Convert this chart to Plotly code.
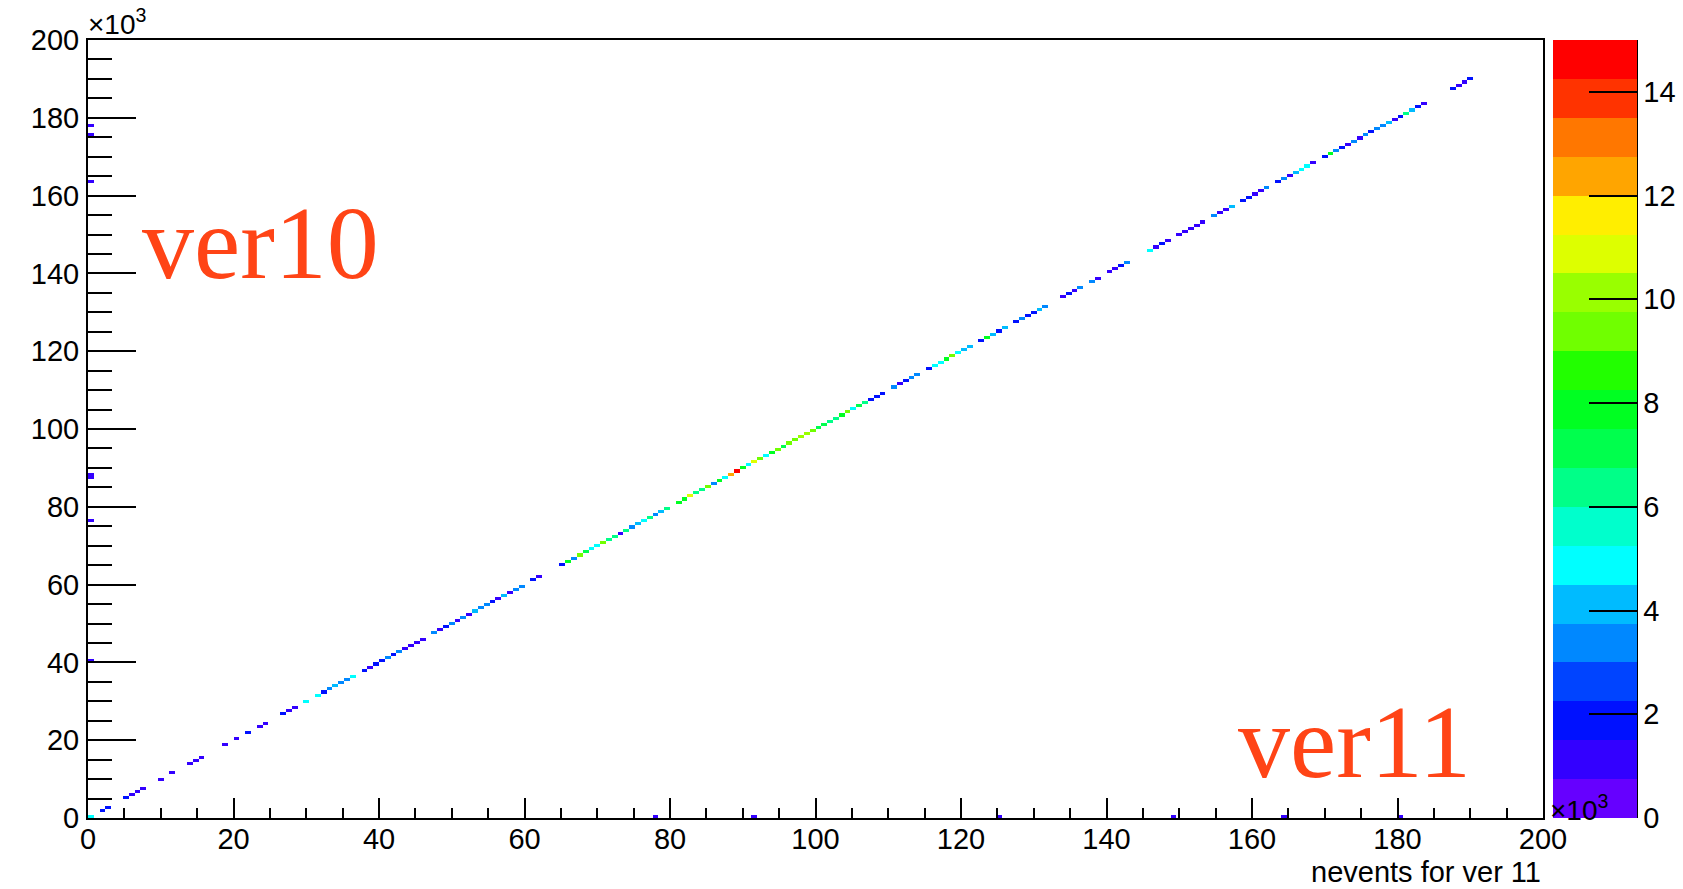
import numpy as np
import plotly.graph_objects as go

# ---------------- data (events per 0.8k bin) ----------------
BIN_W = 800          # bin width in events
N_BINS = 250         # 0 .. 200k

# diagonal cells: index = bin on both axes (ver11 bin == ver10 bin)
diag_counts = [
    4800, 0, 1800, 1800, 0, 0, 1800, 1100, 1100, 1100,          # 0-9
    0, 0, 1100, 0, 1100, 0, 0, 1100, 1100, 1100,                # 10-19
    0, 0, 0, 1100, 0, 1100, 0, 1800, 0, 1100,                   # 20-29
    1100, 0, 0, 1800, 1100, 1100, 0, 4800, 0, 4800,             # 30-39
    1800, 3300, 3900, 3300, 3300, 4800, 0, 1800, 1100, 1800,    # 40-49
    1800, 3300, 1800, 3300, 1100, 1100, 1100, 1100, 0, 3300,    # 50-59
    1100, 1800, 3300, 1100, 3300, 1100, 3900, 3300, 3300, 1800, # 60-69
    1100, 3900, 1100, 3300, 3300, 0, 1800, 1100, 0, 0,          # 70-79
    0, 1800, 7800, 3300, 9300, 7100, 4800, 4800, 9300, 6300,    # 80-89
    6300, 1100, 6300, 3300, 3900, 4800, 6300, 3300, 3900, 6300, # 90-99
    0, 7800, 7800, 10900, 6300, 6300, 9300, 3300, 7800, 4800,   # 100-109
    12300, 15000, 7800, 4800, 10900, 9300, 4800, 7800, 9300, 7100,  # 110-119
    9300, 9300, 10100, 10100, 9300, 7100, 7100, 6300, 6300, 7800,   # 120-129
    9300, 4800, 7100, 6300, 1800, 1800, 1800, 0, 3300, 1100,    # 130-139
    1800, 3300, 3300, 0, 1800, 4800, 4800, 7800, 9300, 4800,    # 140-149
    3900, 3900, 0, 1800, 7800, 3900, 1800, 3900, 0, 1800,       # 150-159
    3300, 1800, 1800, 3900, 3300, 0, 0, 1100, 1800, 1100,       # 160-169
    3300, 0, 3300, 1100, 0, 1100, 1100, 1800, 3300, 0,          # 170-179
    0, 0, 4800, 1100, 1800, 1100, 0, 1100, 1100, 1100,          # 180-189
    1100, 1100, 0, 3300, 1100, 1100, 3900, 0, 1800, 1800,       # 190-199
    1100, 1100, 3300, 0, 1800, 3300, 1100, 3900, 4800, 4800,    # 200-209
    1100, 0, 1800, 7800, 3300, 1800, 1100, 3300, 1100, 3300,    # 210-219
    1800, 3300, 3300, 3900, 1100, 1800, 6300, 3900, 1800, 1100, # 220-229
    0, 0, 0, 0, 1800, 1100, 1100, 1800,                         # 230-237
]

# isolated cells at ver11 = 0 (first column)
left_col_ver10 = [40400, 76400, 87600, 88400, 163600, 175600, 177800]
left_col_counts = [1100, 1100, 1100, 1100, 1100, 1100, 1100]

# isolated cells at ver10 = 0 (bottom row)
bottom_row_ver11 = [77800, 91400, 125200, 148900, 164200, 180300]
bottom_row_counts = [1100, 1100, 1100, 1100, 1100, 1100]

# ROOT rainbow palette, 20 contour levels
palette = [
    "#6600FF", "#3300FF", "#0011FF", "#0044FF", "#0088FF",
    "#00BBFF", "#00FFFF", "#00FFCC", "#00FF88", "#00FF4D",
    "#00FF22", "#22FF00", "#70FF00", "#99FF00", "#DDFF00",
    "#FFEE00", "#FFA500", "#FF7700", "#FF3300", "#FF0000",
]
Z_MAX = 15000
cbar_tickvals = [0, 2000, 4000, 6000, 8000, 10000, 12000, 14000]
cbar_ticktext = ["0", "2", "4", "6", "8", "10", "12", "14"]

# ---------------- build histogram ----------------
z = [[None] * N_BINS for _ in range(N_BINS)]
for i, c in enumerate(diag_counts):
    if c > 0:
        z[i][i] = c
for v, c in zip(left_col_ver10, left_col_counts):
    z[int(v // BIN_W)][0] = c
for v, c in zip(bottom_row_ver11, bottom_row_counts):
    z[0][int(v // BIN_W)] = c

centers = ((np.arange(N_BINS) + 0.5) * BIN_W / 1000.0).tolist()

n = len(palette)
colorscale = []
for k, col in enumerate(palette):
    colorscale.append([k / n, col])
    colorscale.append([(k + 1) / n, col])

# ---------------- layout geometry ----------------
W, H = 1683, 889
L, R, T, B = 88, 140, 40, 71
PW = W - L - R
PH = H - T - B

def px_x(x):
    return (x - L) / PW

def px_y(y):
    return (H - B - y) / PH

FONT = "Liberation Sans, Arial, Helvetica, sans-serif"
SERIF = "Liberation Serif, Times New Roman, serif"
TXT = 29

fig = go.Figure()
fig.add_trace(go.Heatmap(
    x=centers, y=centers, z=z,
    colorscale=colorscale, zmin=0, zmax=Z_MAX,
    hoverongaps=False,
    colorbar=dict(
        thickness=84, thicknessmode="pixels",
        len=1, lenmode="fraction", y=0.5, yanchor="middle",
        x=px_x(1553), xanchor="left", xpad=0, ypad=0,
        outlinewidth=0,
        ticks="inside", ticklen=48, tickwidth=2, tickcolor="black",
        tickvals=cbar_tickvals, ticktext=cbar_ticktext,
        tickfont=dict(family=FONT, size=TXT, color="black"),
        ticklabelposition="outside",
    ),
))

axis_common = dict(
    range=[0, 200], tick0=0, dtick=20,
    ticks="inside", tickwidth=2, tickcolor="black",
    showline=True, linewidth=2, linecolor="black", mirror=True,
    showgrid=False, zeroline=False,
    tickfont=dict(family=FONT, size=TXT, color="black"),
)

fig.update_layout(
    width=W, height=H,
    margin=dict(l=L, r=R, t=T, b=B, autoexpand=False),
    paper_bgcolor="white", plot_bgcolor="white",
    xaxis=dict(**axis_common, ticklen=20,
               minor=dict(ticks="inside", ticklen=10, tickwidth=2,
                          tickcolor="black", dtick=5, showgrid=False),
               ticklabelstandoff=-6),
    yaxis=dict(**axis_common, ticklen=48,
               minor=dict(ticks="inside", ticklen=24, tickwidth=2,
                          tickcolor="black", dtick=5, showgrid=False),
               ticklabelstandoff=1),
    showlegend=False,
)

# colour-bar axis line (right side of palette)
fig.add_shape(type="line", xref="paper", yref="paper",
              x0=px_x(1637), x1=px_x(1637), y0=0, y1=1,
              line=dict(color="black", width=2))

fig.add_annotation(text="×10<sup>3</sup>", xref="paper", yref="paper",
                   x=px_x(86), y=px_y(22), xanchor="left", yanchor="middle",
                   showarrow=False, font=dict(family=FONT, size=28, color="black"))
fig.add_annotation(text="×10<sup>3</sup>", xref="paper", yref="paper",
                   x=px_x(1548), y=px_y(808), xanchor="left", yanchor="middle",
                   showarrow=False, font=dict(family=FONT, size=28, color="black"))
fig.add_annotation(text="nevents for ver 11", xref="paper", yref="paper",
                   x=1.0, y=px_y(872), xanchor="right", yanchor="middle",
                   showarrow=False, font=dict(family=FONT, size=TXT, color="black"))
fig.add_annotation(text="ver10", xref="paper", yref="paper",
                   x=px_x(140), y=px_y(243), xanchor="left", yanchor="middle",
                   showarrow=False, font=dict(family=SERIF, size=104, color="#FF4416"))
fig.add_annotation(text="ver11", xref="paper", yref="paper",
                   x=px_x(1236), y=px_y(741), xanchor="left", yanchor="middle",
                   showarrow=False, font=dict(family=SERIF, size=104, color="#FF4416"))

fig.write_html("out.html")
